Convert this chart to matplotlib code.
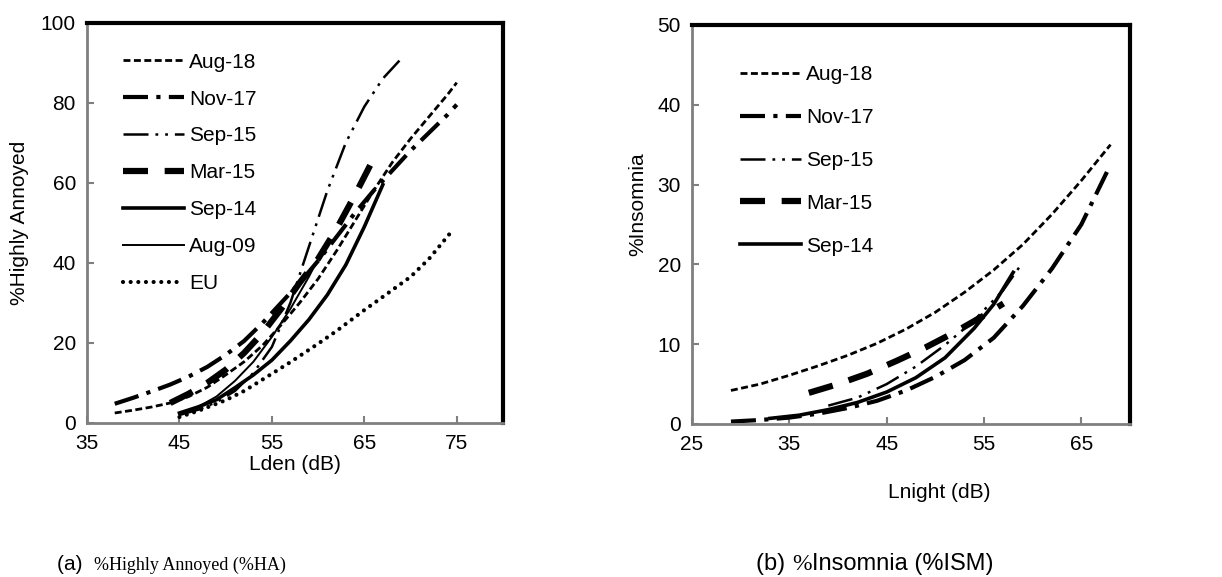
import matplotlib
matplotlib.use('Agg')
import matplotlib.pyplot as plt

plt.rcParams['font.family'] = ['Liberation Sans', 'DejaVu Sans']
plt.rcParams['lines.scale_dashes'] = False

# (a) %Highly Annoyed vs Lden
aug18_x = [38, 40, 42, 44, 46, 48, 50, 52, 54, 56, 58, 60, 62, 64, 66, 68, 70, 72, 74, 75]
aug18_y = [2.5, 3.2, 4.0, 5.0, 6.6, 8.9, 12, 15.3, 19.4, 24.5, 30, 36, 43, 50.5, 58, 65, 71, 76.5, 82, 85]
nov17_x = [38, 40, 42, 44, 46, 48, 50, 52, 54, 56, 58, 60, 62, 64, 66, 68, 70, 72, 74, 75]
nov17_y = [4.8, 6.3, 7.9, 9.6, 11.6, 14, 17, 20.5, 25, 30, 35, 40.5, 46.5, 52.5, 58, 63, 68, 72.5, 77, 79.5]
sep15_x = [45, 47, 49, 51, 53, 55, 57, 59, 60, 61, 63, 65, 67, 68.8]
sep15_y = [2, 3.3, 5.2, 8, 12.5, 19, 30, 44, 51, 58, 70, 79, 86, 90.5]
mar15_x = [44, 46, 48, 50, 52, 54, 56, 58, 60, 62, 64, 66]
mar15_y = [5, 7.3, 10, 13.3, 17.5, 22.5, 28.5, 35, 41, 48.5, 57, 66]
sep14_x = [45, 47, 49, 51, 53, 55, 57, 59, 61, 63, 65, 67]
sep14_y = [2.5, 4, 5.8, 8.8, 12, 15.7, 20.5, 25.8, 32, 39.5, 49, 59.5]
aug09_x = [45, 47, 49, 51, 53, 55, 57, 59, 60]
aug09_y = [2.3, 4, 6.6, 10.5, 15.3, 21.5, 28.5, 36.5, 41]
eu_x = [45, 47, 50, 52, 55, 57, 60, 62, 65, 67, 70, 72, 74.5]
eu_y = [1.5, 3, 5.7, 8, 12.3, 15.2, 19.8, 23, 28.2, 31.5, 36.5, 41, 48]

# (b) %Insomnia vs Lnight
n_aug18_x = [29, 32, 35, 38, 41, 44, 47, 50, 53, 56, 59, 62, 65, 68]
n_aug18_y = [4.2, 5, 6.1, 7.3, 8.6, 10.1, 11.9, 14, 16.5, 19.3, 22.5, 26.3, 30.5, 35]
n_nov17_x = [29, 32, 35, 38, 41, 44, 47, 50, 53, 56, 59, 62, 65, 68]
n_nov17_y = [0.3, 0.5, 0.8, 1.3, 2, 2.9, 4.2, 5.9, 8, 10.8, 14.8, 19.5, 25, 32.5]
n_sep15_x = [39, 42, 45, 48, 51, 54, 57, 59]
n_sep15_y = [2.3, 3.3, 5, 7.2, 9.9, 13, 16.8, 20.3]
n_mar15_x = [37, 40, 43, 46, 49, 52, 55, 57]
n_mar15_y = [3.9, 5, 6.3, 7.9, 9.6, 11.5, 13.6, 15.1]
n_sep14_x = [33, 36, 39, 42, 45, 48, 51, 54, 56, 58]
n_sep14_y = [0.7, 1.1, 1.8, 2.7, 4, 5.8, 8.3, 12, 15, 19]

styles = {
    'Aug-18': dict(lw=2.0, dashes=(5, 2.5)),
    'Nov-17': dict(lw=3.0, dashes=(18, 6, 3, 6)),
    'Sep-15': dict(lw=1.8, dashes=(18, 5, 2, 5, 2, 5)),
    'Mar-15': dict(lw=4.5, dashes=(18, 12)),
    'Sep-14': dict(lw=2.6),
    'Aug-09': dict(lw=1.4),
    'EU': dict(lw=3.0, dashes=(0.01, 5.5), dash_capstyle='round'),
}

fig = plt.figure(figsize=(12.22, 5.77), dpi=100)
ax1 = fig.add_axes([0.0712, 0.2669, 0.3404, 0.694])
ax2 = fig.add_axes([0.5663, 0.2652, 0.3584, 0.6915])

left_series = [('Aug-18', aug18_x, aug18_y), ('Nov-17', nov17_x, nov17_y),
               ('Sep-15', sep15_x, sep15_y), ('Mar-15', mar15_x, mar15_y),
               ('Sep-14', sep14_x, sep14_y), ('Aug-09', aug09_x, aug09_y),
               ('EU', eu_x, eu_y)]
right_series = [('Aug-18', n_aug18_x, n_aug18_y), ('Nov-17', n_nov17_x, n_nov17_y),
                ('Sep-15', n_sep15_x, n_sep15_y), ('Mar-15', n_mar15_x, n_mar15_y),
                ('Sep-14', n_sep14_x, n_sep14_y)]

for name, x, y in left_series:
    ax1.plot(x, y, color='black', label=name, **styles[name])
for name, x, y in right_series:
    ax2.plot(x, y, color='black', label=name, **styles[name])

ax1.set_xlim(35, 80)
ax1.set_ylim(0, 100)
ax1.set_xticks([35, 45, 55, 65, 75])
ax1.set_yticks([0, 20, 40, 60, 80, 100])
ax2.set_xlim(25, 70)
ax2.set_ylim(0, 50)
ax2.set_xticks([25, 35, 45, 55, 65])
ax2.set_yticks([0, 10, 20, 30, 40, 50])

for ax in (ax1, ax2):
    for s in ('left', 'bottom'):
        ax.spines[s].set_color('#7f7f7f')
        ax.spines[s].set_linewidth(2)
    for s in ('top', 'right'):
        ax.spines[s].set_color('black')
        ax.spines[s].set_linewidth(3)
    ax.tick_params(direction='in', length=5, width=1.5, color='#7f7f7f',
                   labelsize=15, pad=8, labelcolor='black')

ax1.set_xlabel('Lden (dB)', fontsize=15)
ax1.set_ylabel('%Highly Annoyed', fontsize=15)
ax1.xaxis.set_label_coords(0.5, -0.08)
ax1.yaxis.set_label_coords(-0.14, 0.5)
ax2.set_xlabel('Lnight (dB)', fontsize=15)
ax2.set_ylabel('%Insomnia', fontsize=15)
ax2.xaxis.set_label_coords(0.565, -0.148)
ax2.yaxis.set_label_coords(-0.103, 0.55)

ax1.legend(loc='upper left', bbox_to_anchor=(0.087, 0.925), frameon=False,
           fontsize=15, handlelength=2.9, handletextpad=0.25, labelspacing=0.86,
           borderpad=0, borderaxespad=0)
ax2.legend(loc='upper left', bbox_to_anchor=(0.11, 0.90), frameon=False,
           fontsize=15, handlelength=2.9, handletextpad=0.25, labelspacing=1.15,
           borderpad=0, borderaxespad=0)

# captions made of sans and serif pieces
renderer = fig.canvas.get_renderer()


def caption(x, y, pieces):
    for txt, fam, size in pieces:
        t = fig.text(x, y, txt, fontsize=size, family=fam, va='baseline')
        bb = t.get_window_extent(renderer=renderer)
        x = x + bb.width / fig.bbox.width


caption(0.0466, 0.012, [('(a)  ', 'Liberation Sans', 15),
                        ('%Highly Annoyed (%HA)', 'Liberation Serif', 13)])
caption(0.619, 0.012, [('(b) ', 'Liberation Sans', 17), ('%', 'Liberation Serif', 17),
                       ('Insomnia (%ISM)', 'Liberation Sans', 17)])

fig.savefig('out.png', dpi=100)
